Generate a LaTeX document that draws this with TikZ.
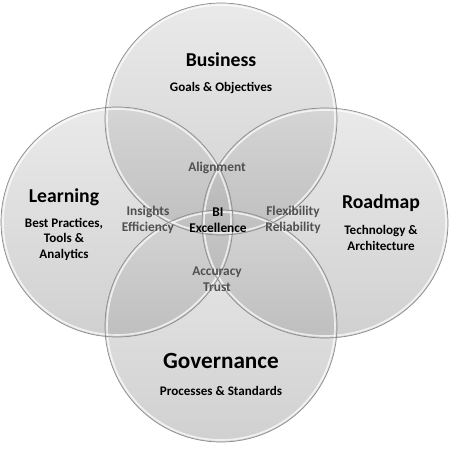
\documentclass[tikz,border=0pt]{standalone}
\usepackage{fontspec}
\setmainfont{Carlito}
\definecolor{ring}{RGB}{140,140,140}
\definecolor{inner}{RGB}{80,80,80}
\tikzset{
  venn/.style={shade,top color=black!22,bottom color=black!48,fill opacity=0.38},
  rim/.style={draw=ring,line width=0.5pt},
  gloss/.style={draw=white,line width=1.2pt,draw opacity=0.7},
  title/.style={font=\bfseries\fontsize{14}{16}\selectfont},
  sub/.style={font=\bfseries\fontsize{9.3}{11}\selectfont,align=center},
  mid/.style={font=\bfseries\fontsize{9.5}{11}\selectfont,align=center,text=inner}
}
\begin{document}
\begin{tikzpicture}[x=0.025cm,y=-0.025cm]
\useasboundingbox (0,0) rectangle (451,451);
\coordinate (B) at (221,119);
\coordinate (L) at (117,222);
\coordinate (R) at (325,223);
\coordinate (G) at (221,326);
\path[venn] (B) circle[radius=116];
\path[venn] (L) ellipse[x radius=116,y radius=115];
\path[venn] (R) ellipse[x radius=123,y radius=115];
\path[venn] (G) circle[radius=116];
\draw[gloss] (B) circle[radius=114];
\draw[gloss] (L) ellipse[x radius=114,y radius=113];
\draw[gloss] (R) ellipse[x radius=121,y radius=113];
\draw[gloss] (G) circle[radius=114];
\draw[rim] (B) circle[radius=116];
\draw[rim] (L) ellipse[x radius=116,y radius=115];
\draw[rim] (R) ellipse[x radius=123,y radius=115];
\draw[rim] (G) circle[radius=116];
\node[title] (business) at (221,60) {Business};
\node[sub] (goals) at (221,88) {Goals \& Objectives};
\node[title] (learning) at (64,197) {Learning};
\node[sub] (practices) at (64,239) {Best Practices,\\Tools \&\\Analytics};
\node[title] (roadmap) at (381,203) {Roadmap};
\node[sub] (technology) at (381,238) {Technology \&\\Architecture};
\node[title,font=\bfseries\fontsize{16.5}{18}\selectfont] (governance) at (221,361) {Governance};
\node[sub] (processes) at (221,391) {Processes \& Standards};
\node[mid] (alignment) at (217,168) {Alignment};
\node[mid] (insights) at (148,220) {Insights\\Efficiency};
\node[mid,text=black] (bi) at (218,220) {BI\\Excellence};
\node[mid] (flexibility) at (293,220) {Flexibility\\Reliability};
\node[mid] (accuracy) at (217,279) {Accuracy\\Trust};
\end{tikzpicture}
\end{document}
